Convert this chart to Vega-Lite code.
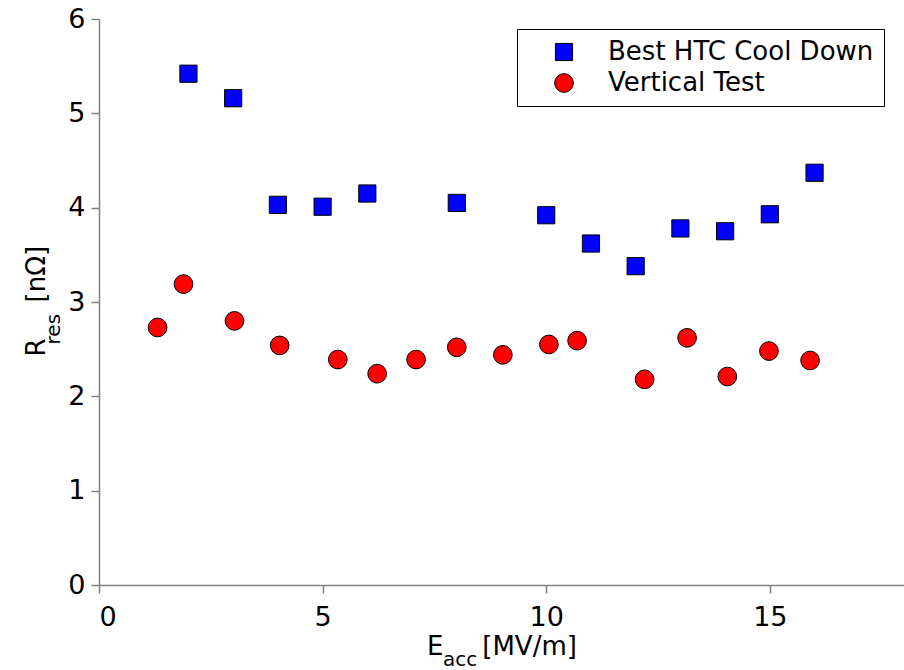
{
  "$schema": "https://vega.github.io/schema/vega-lite/v6.json",
  "autosize": "none",
  "padding": {"left": 99, "top": 19, "right": 0, "bottom": 85},
  "width": 805,
  "height": 566,
  "background": "white",
  "config": {
    "font": "DejaVu Sans",
    "view": {"stroke": null},
    "axis": {
      "grid": false,
      "domainColor": "#808080",
      "domainWidth": 1.5,
      "tickColor": "#808080",
      "tickWidth": 1.5,
      "tickSize": 8,
      "labelFont": "DejaVu Sans",
      "labelFontSize": 27,
      "labelColor": "#000000",
      "labelPadding": 6,
      "title": null
    }
  },
  "datasets": {
    "resistance": [
      {"series": "Best HTC Cool Down", "Eacc": 2, "Rres": 5.42},
      {"series": "Best HTC Cool Down", "Eacc": 3, "Rres": 5.16},
      {"series": "Best HTC Cool Down", "Eacc": 4, "Rres": 4.03},
      {"series": "Best HTC Cool Down", "Eacc": 5, "Rres": 4.01},
      {"series": "Best HTC Cool Down", "Eacc": 6, "Rres": 4.15},
      {"series": "Best HTC Cool Down", "Eacc": 8, "Rres": 4.05},
      {"series": "Best HTC Cool Down", "Eacc": 10, "Rres": 3.92},
      {"series": "Best HTC Cool Down", "Eacc": 11, "Rres": 3.62},
      {"series": "Best HTC Cool Down", "Eacc": 12, "Rres": 3.38},
      {"series": "Best HTC Cool Down", "Eacc": 13, "Rres": 3.78},
      {"series": "Best HTC Cool Down", "Eacc": 14, "Rres": 3.75},
      {"series": "Best HTC Cool Down", "Eacc": 15, "Rres": 3.93},
      {"series": "Best HTC Cool Down", "Eacc": 16, "Rres": 4.37},
      {"series": "Vertical Test", "Eacc": 1.31, "Rres": 2.73},
      {"series": "Vertical Test", "Eacc": 1.89, "Rres": 3.19},
      {"series": "Vertical Test", "Eacc": 3.03, "Rres": 2.80},
      {"series": "Vertical Test", "Eacc": 4.04, "Rres": 2.54},
      {"series": "Vertical Test", "Eacc": 5.34, "Rres": 2.39},
      {"series": "Vertical Test", "Eacc": 6.22, "Rres": 2.24},
      {"series": "Vertical Test", "Eacc": 7.09, "Rres": 2.39},
      {"series": "Vertical Test", "Eacc": 8.0, "Rres": 2.52},
      {"series": "Vertical Test", "Eacc": 9.03, "Rres": 2.44},
      {"series": "Vertical Test", "Eacc": 10.06, "Rres": 2.55},
      {"series": "Vertical Test", "Eacc": 10.69, "Rres": 2.59},
      {"series": "Vertical Test", "Eacc": 12.2, "Rres": 2.18},
      {"series": "Vertical Test", "Eacc": 13.15, "Rres": 2.62},
      {"series": "Vertical Test", "Eacc": 14.05, "Rres": 2.21},
      {"series": "Vertical Test", "Eacc": 14.98, "Rres": 2.48},
      {"series": "Vertical Test", "Eacc": 15.9, "Rres": 2.38}
    ]
  },
  "layer": [
    {
      "data": {"name": "resistance"},
      "mark": {"type": "point", "filled": true, "stroke": "#000000", "strokeWidth": 1, "opacity": 1},
      "encoding": {
        "x": {
          "field": "Eacc", "type": "quantitative",
          "scale": {"domain": [0, 18], "nice": false, "zero": false},
          "axis": {"values": [0, 5, 10, 15], "format": "d", "labelPadding": 11, "title": null}
        },
        "y": {
          "field": "Rres", "type": "quantitative",
          "scale": {"domain": [0, 6], "nice": false, "zero": false},
          "axis": {"values": [0, 1, 2, 3, 4, 5, 6], "format": "d", "labelPadding": 6, "title": null}
        },
        "color": {
          "field": "series", "type": "nominal",
          "scale": {"domain": ["Best HTC Cool Down", "Vertical Test"], "range": ["#0000ff", "#ff0000"]},
          "legend": {
            "title": null,
            "orient": "none",
            "legendX": 418,
            "legendY": 10,
            "strokeColor": "#000000",
            "fillColor": "#ffffff",
            "padding": 10,
            "symbolOffset": 24,
            "labelOffset": 31,
            "labelFontSize": 26,
            "labelFont": "DejaVu Sans",
            "labelColor": "#000000",
            "labelLimit": 500,
            "rowPadding": 5,
            "symbolStrokeColor": "#000000",
            "symbolStrokeWidth": 1,
            "symbolOpacity": 1
          }
        },
        "shape": {
          "field": "series", "type": "nominal",
          "scale": {"domain": ["Best HTC Cool Down", "Vertical Test"], "range": ["square", "circle"]}
        },
        "size": {
          "field": "series", "type": "nominal",
          "scale": {"domain": ["Best HTC Cool Down", "Vertical Test"], "range": [295, 350]}
        }
      }
    },
    {
      "data": {"values": [{}]},
      "mark": {"type": "text", "text": "E", "fontSize": 26, "align": "left", "baseline": "alphabetic", "color": "#000000"},
      "encoding": {
        "x": {"datum": 7.334, "type": "quantitative"},
        "y": {"datum": -0.737, "type": "quantitative"}
      }
    },
    {
      "data": {"values": [{}]},
      "mark": {"type": "text", "text": "acc", "fontSize": 20, "align": "left", "baseline": "alphabetic", "color": "#000000"},
      "encoding": {
        "x": {"datum": 7.692, "type": "quantitative"},
        "y": {"datum": -0.86, "type": "quantitative"}
      }
    },
    {
      "data": {"values": [{}]},
      "mark": {"type": "text", "text": "[MV/m]", "fontSize": 26, "align": "left", "baseline": "alphabetic", "color": "#000000"},
      "encoding": {
        "x": {"datum": 8.57, "type": "quantitative"},
        "y": {"datum": -0.737, "type": "quantitative"}
      }
    },
    {
      "data": {"values": [{}]},
      "mark": {"type": "text", "text": "R", "fontSize": 26, "angle": 270, "align": "left", "baseline": "alphabetic", "color": "#000000"},
      "encoding": {
        "x": {"datum": -1.207, "type": "quantitative"},
        "y": {"datum": 2.422, "type": "quantitative"}
      }
    },
    {
      "data": {"values": [{}]},
      "mark": {"type": "text", "text": "res", "fontSize": 20, "angle": 270, "align": "left", "baseline": "alphabetic", "color": "#000000"},
      "encoding": {
        "x": {"datum": -0.872, "type": "quantitative"},
        "y": {"datum": 2.55, "type": "quantitative"}
      }
    },
    {
      "data": {"values": [{}]},
      "mark": {"type": "text", "text": "[nΩ]", "fontSize": 26, "angle": 270, "align": "left", "baseline": "alphabetic", "color": "#000000"},
      "encoding": {
        "x": {"datum": -1.207, "type": "quantitative"},
        "y": {"datum": 2.995, "type": "quantitative"}
      }
    }
  ]
}
